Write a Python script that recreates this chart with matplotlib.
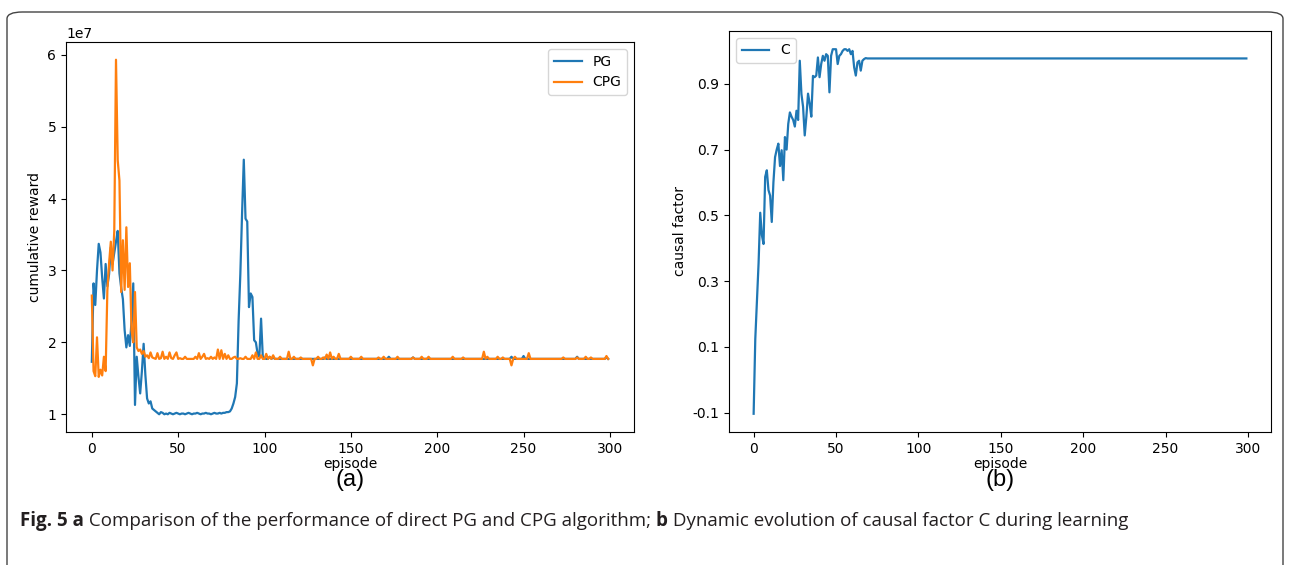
import matplotlib
matplotlib.use("Agg")
import matplotlib.pyplot as plt
from matplotlib.patches import FancyBboxPatch
import numpy as np

# ---------------- data ----------------
episodes = list(range(300))

# cumulative reward, in units of 1e7
pg_reward = [
    1.73, 2.82, 2.52, 3.00, 3.37, 3.25, 2.90, 2.61, 3.09, 2.78,
    2.95, 3.32, 3.09, 3.25, 3.40, 3.55, 2.96, 2.76, 2.60, 2.17,
    1.93, 2.10, 1.95, 2.30, 2.82, 1.13, 1.80, 1.52, 1.29, 1.60,
    1.98, 1.55, 1.22, 1.15, 1.18, 1.08, 1.06, 1.04, 1.02, 1.00,
    1.03, 1.02, 1.00, 1.01, 1.00, 1.02, 1.01, 1.00, 1.01, 1.02,
    1.01, 1.00, 1.01, 1.01, 1.00, 1.01, 1.02, 1.01, 1.00, 1.01,
    1.01, 1.02, 1.01, 1.00, 1.01, 1.01, 1.02, 1.01, 1.01, 1.00,
    1.01, 1.02, 1.01, 1.01, 1.02, 1.01, 1.02, 1.02, 1.03, 1.03,
    1.04, 1.08, 1.15, 1.24, 1.43, 2.30, 2.95, 3.79, 4.54, 3.72,
    3.68, 2.49, 2.68, 2.63, 2.03, 2.00, 1.84, 1.80, 2.33, 1.80,
    1.78, 1.77, 1.77, 1.80, 1.77, 1.79, 1.77, 1.77, 1.77, 1.77,
    1.77, 1.77, 1.77, 1.77, 1.77, 1.77, 1.77, 1.77, 1.77, 1.77,
    1.77, 1.77, 1.77, 1.77, 1.77, 1.77, 1.77, 1.77, 1.77, 1.77,
    1.77, 1.77, 1.77, 1.77, 1.77, 1.79, 1.77, 1.77, 1.77, 1.77,
    1.77, 1.77, 1.77, 1.77, 1.77, 1.77, 1.77, 1.77, 1.77, 1.77,
    1.77, 1.77, 1.77, 1.77, 1.77, 1.77, 1.77, 1.77, 1.77, 1.77,
    1.77, 1.77, 1.77, 1.77, 1.77, 1.77, 1.77, 1.77, 1.77, 1.77,
    1.77, 1.77, 1.80, 1.77, 1.77, 1.77, 1.77, 1.77, 1.77, 1.77,
    1.77, 1.77, 1.77, 1.77, 1.77, 1.77, 1.79, 1.77, 1.77, 1.77,
    1.77, 1.77, 1.77, 1.77, 1.77, 1.77, 1.77, 1.77, 1.77, 1.77,
    1.77, 1.77, 1.77, 1.77, 1.77, 1.77, 1.77, 1.77, 1.77, 1.77,
    1.77, 1.77, 1.77, 1.77, 1.77, 1.77, 1.77, 1.77, 1.77, 1.77,
    1.77, 1.77, 1.77, 1.77, 1.77, 1.77, 1.77, 1.77, 1.77, 1.77,
    1.77, 1.77, 1.77, 1.77, 1.77, 1.77, 1.77, 1.77, 1.77, 1.77,
    1.77, 1.77, 1.77, 1.80, 1.77, 1.77, 1.77, 1.77, 1.77, 1.77,
    1.81, 1.77, 1.77, 1.77, 1.77, 1.77, 1.77, 1.77, 1.77, 1.77,
    1.77, 1.77, 1.77, 1.77, 1.77, 1.77, 1.77, 1.77, 1.77, 1.77,
    1.77, 1.77, 1.77, 1.77, 1.77, 1.77, 1.77, 1.77, 1.77, 1.77,
    1.77, 1.80, 1.77, 1.77, 1.77, 1.77, 1.77, 1.77, 1.77, 1.77,
    1.77, 1.77, 1.77, 1.77, 1.77, 1.77, 1.77, 1.77, 1.79, 1.77,
]

cpg_reward = [
    2.65, 1.60, 1.53, 2.07, 1.52, 1.62, 1.54, 1.80, 1.60, 2.72,
    3.10, 3.40, 3.00, 3.55, 5.93, 4.53, 4.25, 2.70, 3.42, 2.73,
    3.60, 2.77, 3.10, 2.17, 2.00, 2.70, 1.93, 1.88, 1.90, 1.84,
    1.88, 1.80, 1.82, 1.78, 1.86, 1.79, 1.78, 1.77, 1.85, 1.77,
    1.78, 1.87, 1.77, 1.80, 1.77, 1.86, 1.78, 1.77, 1.82, 1.86,
    1.77, 1.78, 1.77, 1.77, 1.80, 1.77, 1.77, 1.77, 1.77, 1.77,
    1.80, 1.77, 1.85, 1.77, 1.80, 1.84, 1.77, 1.78, 1.77, 1.80,
    1.77, 1.79, 1.77, 1.90, 1.77, 1.89, 1.77, 1.84, 1.77, 1.82,
    1.77, 1.77, 1.79, 1.80, 1.77, 1.77, 1.78, 1.77, 1.77, 1.80,
    1.77, 1.77, 1.77, 1.82, 1.77, 1.86, 1.77, 1.77, 1.82, 1.77,
    1.77, 1.84, 1.77, 1.80, 1.77, 1.82, 1.77, 1.77, 1.77, 1.80,
    1.77, 1.77, 1.77, 1.77, 1.87, 1.77, 1.77, 1.80, 1.77, 1.77,
    1.77, 1.79, 1.77, 1.77, 1.77, 1.77, 1.77, 1.77, 1.68, 1.77,
    1.77, 1.80, 1.77, 1.77, 1.79, 1.77, 1.83, 1.77, 1.86, 1.77,
    1.80, 1.77, 1.77, 1.84, 1.77, 1.77, 1.77, 1.77, 1.77, 1.77,
    1.80, 1.77, 1.77, 1.77, 1.77, 1.77, 1.80, 1.77, 1.77, 1.77,
    1.77, 1.77, 1.77, 1.77, 1.77, 1.77, 1.79, 1.77, 1.77, 1.80,
    1.77, 1.77, 1.77, 1.77, 1.77, 1.77, 1.77, 1.80, 1.77, 1.77,
    1.77, 1.77, 1.77, 1.77, 1.77, 1.77, 1.79, 1.77, 1.77, 1.77,
    1.77, 1.80, 1.77, 1.77, 1.77, 1.80, 1.77, 1.77, 1.77, 1.77,
    1.77, 1.77, 1.77, 1.77, 1.77, 1.77, 1.77, 1.77, 1.77, 1.80,
    1.77, 1.77, 1.77, 1.77, 1.77, 1.79, 1.77, 1.77, 1.77, 1.77,
    1.77, 1.77, 1.77, 1.77, 1.77, 1.77, 1.77, 1.87, 1.77, 1.80,
    1.77, 1.77, 1.77, 1.77, 1.77, 1.80, 1.77, 1.77, 1.79, 1.77,
    1.77, 1.77, 1.77, 1.68, 1.77, 1.80, 1.77, 1.77, 1.77, 1.77,
    1.77, 1.77, 1.77, 1.85, 1.77, 1.77, 1.77, 1.77, 1.77, 1.77,
    1.77, 1.77, 1.77, 1.77, 1.77, 1.77, 1.77, 1.77, 1.77, 1.77,
    1.77, 1.77, 1.77, 1.79, 1.77, 1.77, 1.77, 1.77, 1.77, 1.77,
    1.77, 1.79, 1.77, 1.77, 1.77, 1.77, 1.80, 1.77, 1.77, 1.79,
    1.77, 1.77, 1.77, 1.77, 1.77, 1.77, 1.77, 1.77, 1.81, 1.77,
]

causal_c = [
    -0.103, 0.124, 0.240, 0.355, 0.508, 0.440, 0.413, 0.617, 0.637, 0.577,
    0.560, 0.480, 0.600, 0.677, 0.700, 0.718, 0.650, 0.698, 0.607, 0.738,
    0.700, 0.778, 0.813, 0.800, 0.790, 0.770, 0.818, 0.790, 0.970, 0.869,
    0.830, 0.743, 0.800, 0.870, 0.840, 0.800, 0.924, 0.920, 0.925, 0.980,
    0.920, 0.960, 0.985, 0.970, 0.990, 0.985, 0.874, 0.985, 1.005, 1.005,
    1.005, 0.960, 0.985, 0.990, 1.000, 1.005, 1.005, 1.000, 1.005, 0.990,
    1.000, 0.950, 0.925, 0.965, 0.970, 0.940, 0.970, 0.975, 0.978, 0.977,
    0.977, 0.977, 0.977, 0.977, 0.977, 0.977, 0.977, 0.977, 0.977, 0.977,
    0.977, 0.977, 0.977, 0.977, 0.977, 0.977, 0.977, 0.977, 0.977, 0.977,
    0.977, 0.977, 0.977, 0.977, 0.977, 0.977, 0.977, 0.977, 0.977, 0.977,
    0.977, 0.977, 0.977, 0.977, 0.977, 0.977, 0.977, 0.977, 0.977, 0.977,
    0.977, 0.977, 0.977, 0.977, 0.977, 0.977, 0.977, 0.977, 0.977, 0.977,
    0.977, 0.977, 0.977, 0.977, 0.977, 0.977, 0.977, 0.977, 0.977, 0.977,
    0.977, 0.977, 0.977, 0.977, 0.977, 0.977, 0.977, 0.977, 0.977, 0.977,
    0.977, 0.977, 0.977, 0.977, 0.977, 0.977, 0.977, 0.977, 0.977, 0.977,
    0.977, 0.977, 0.977, 0.977, 0.977, 0.977, 0.977, 0.977, 0.977, 0.977,
    0.977, 0.977, 0.977, 0.977, 0.977, 0.977, 0.977, 0.977, 0.977, 0.977,
    0.977, 0.977, 0.977, 0.977, 0.977, 0.977, 0.977, 0.977, 0.977, 0.977,
    0.977, 0.977, 0.977, 0.977, 0.977, 0.977, 0.977, 0.977, 0.977, 0.977,
    0.977, 0.977, 0.977, 0.977, 0.977, 0.977, 0.977, 0.977, 0.977, 0.977,
    0.977, 0.977, 0.977, 0.977, 0.977, 0.977, 0.977, 0.977, 0.977, 0.977,
    0.977, 0.977, 0.977, 0.977, 0.977, 0.977, 0.977, 0.977, 0.977, 0.977,
    0.977, 0.977, 0.977, 0.977, 0.977, 0.977, 0.977, 0.977, 0.977, 0.977,
    0.977, 0.977, 0.977, 0.977, 0.977, 0.977, 0.977, 0.977, 0.977, 0.977,
    0.977, 0.977, 0.977, 0.977, 0.977, 0.977, 0.977, 0.977, 0.977, 0.977,
    0.977, 0.977, 0.977, 0.977, 0.977, 0.977, 0.977, 0.977, 0.977, 0.977,
    0.977, 0.977, 0.977, 0.977, 0.977, 0.977, 0.977, 0.977, 0.977, 0.977,
    0.977, 0.977, 0.977, 0.977, 0.977, 0.977, 0.977, 0.977, 0.977, 0.977,
    0.977, 0.977, 0.977, 0.977, 0.977, 0.977, 0.977, 0.977, 0.977, 0.977,
    0.977, 0.977, 0.977, 0.977, 0.977, 0.977, 0.977, 0.977, 0.977, 0.977,
]

x_ticks = [0, 50, 100, 150, 200, 250, 300]
left_yticks = [1, 2, 3, 4, 5, 6]
right_yticks = [-0.1, 0.1, 0.3, 0.5, 0.7, 0.9]
caption_parts = [
    ("Fig. 5 a", "bold"),
    (" Comparison of the performance of direct PG and CPG algorithm; ", "normal"),
    ("b", "bold"),
    (" Dynamic evolution of causal factor C during learning", "normal"),
]

# ---------------- figure ----------------
W, H = 1289, 565
fig = plt.figure(figsize=(W / 100, H / 100), dpi=100)

def ax_rect(l, t, r, b):
    return [l / W, 1 - b / H, (r - l) / W, (b - t) / H]

# outer rounded frame
frame = FancyBboxPatch((7 / W, -0.05), (1283 - 7) / W, (H - 12) / H + 0.05,
                       boxstyle="round,pad=0,rounding_size=0.012",
                       transform=fig.transFigure, fill=False,
                       edgecolor="#444444", linewidth=1.0)
fig.patches.append(frame)

tick_fs = 10

axL = fig.add_axes(ax_rect(66, 42, 634, 432))
ep = np.array(episodes)
axL.plot(ep, np.array(pg_reward) * 1e7, color="#1f77b4", lw=1.6, label="PG")
axL.plot(ep, np.array(cpg_reward) * 1e7, color="#ff7f0e", lw=1.6, label="CPG")
axL.set_xticks(x_ticks)
axL.set_yticks([v * 1e7 for v in left_yticks])
axL.tick_params(labelsize=tick_fs)
axL.yaxis.get_offset_text().set_fontsize(tick_fs)
axL.set_xlabel("episode", fontsize=tick_fs, labelpad=1)
axL.set_ylabel("cumulative reward", fontsize=tick_fs)
axL.legend(loc="upper right", fontsize=tick_fs)

axR = fig.add_axes(ax_rect(729, 31, 1271, 432))
axR.plot(ep, causal_c, color="#1f77b4", lw=1.6, label="C")
axR.set_xticks(x_ticks)
axR.set_yticks(right_yticks)
axR.set_yticklabels([f"{v:.1f}" for v in right_yticks])
axR.tick_params(labelsize=tick_fs)
axR.set_xlabel("episode", fontsize=tick_fs, labelpad=1)
axR.set_ylabel("causal factor", fontsize=tick_fs)
axR.legend(loc="upper left", fontsize=tick_fs)

fig.text(350 / W, 1 - 480 / H, "(a)", ha="center", va="center",
         fontsize=17, family="Liberation Sans")
fig.text(1000 / W, 1 - 480 / H, "(b)", ha="center", va="center",
         fontsize=17, family="Liberation Sans")

# caption built from parts
renderer = fig.canvas.get_renderer()
x_px = 20
cap_y = 1 - 521 / H
for txt, wt in caption_parts:
    t = fig.text(x_px / W, cap_y, txt, ha="left", va="center",
                 fontsize=13.5, fontweight=wt,
                 family=["Open Sans"],
                 color="#231f20")
    bb = t.get_window_extent(renderer=renderer)
    x_px += bb.width

fig.savefig("out.png", dpi=100)
